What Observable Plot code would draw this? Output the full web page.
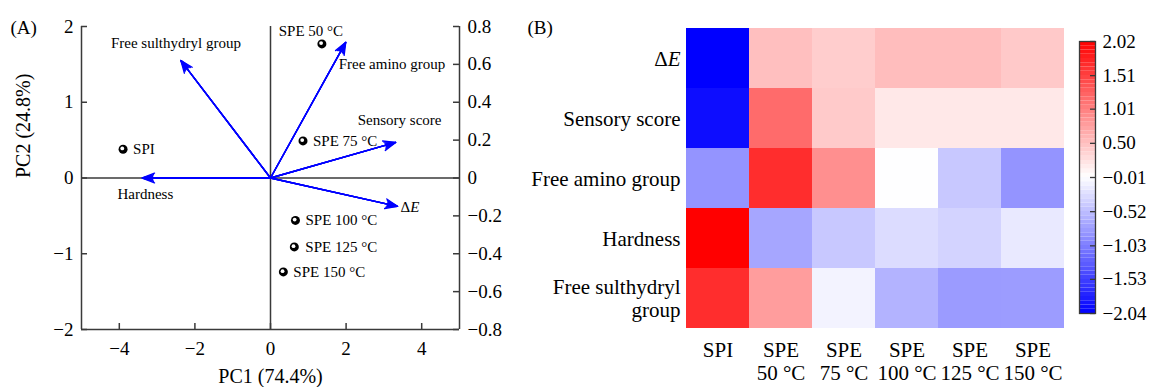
<!DOCTYPE html>
<html><head><meta charset="utf-8">
<script src="https://cdn.jsdelivr.net/npm/d3@7"></script>
<script src="https://cdn.jsdelivr.net/npm/@observablehq/plot@0.6"></script>
<style>
html,body{margin:0;padding:0;background:#fff;}
#wrap{position:relative;width:1151px;height:387px;overflow:hidden;font-family:"Liberation Serif",serif;}
#wrap > div{position:absolute;top:0;}
</style></head><body>
<div id="wrap"><div id="pca" style="left:0"></div><div id="heat" style="left:520px"></div><div id="bar" style="left:1078px"></div></div>
<script>
// ---- Data ----
const samples = ["SPI", "SPE 50 °C", "SPE 75 °C", "SPE 100 °C", "SPE 125 °C", "SPE 150 °C"];
const scoreX = [-3.9, 1.36, 0.86, 0.66, 0.63, 0.34];
const scoreY = [0.38, 1.77, 0.49, -0.56, -0.91, -1.24];
const variables = ["Free sulthydryl group", "Free amino group", "Sensory score", "ΔE", "Hardness"];
const loadX = [-2.37, 1.99, 3.31, 3.36, -3.39];
const loadY = [1.55, 1.79, 0.47, -0.375, 0];
const pcTicksX = [-4, -2, 0, 2, 4];
const pcTicksY = [-2, -1, 0, 1, 2];
const loadTicks = [-0.8, -0.6, -0.4, -0.2, 0, 0.2, 0.4, 0.6, 0.8];
const heatRows = ["ΔE", "Sensory score", "Free amino group", "Hardness", "Free sulthydryl group"];
const heatValues = [
  [-2.04, 0.51, 0.40, 0.52, 0.52, 0.43],
  [-1.94, 1.17, 0.42, 0.18, 0.18, 0.18],
  [-0.86, 1.66, 0.89, -0.01, -0.44, -0.86],
  [2.02, -0.71, -0.44, -0.28, -0.35, -0.18],
  [1.66, 0.78, -0.10, -0.61, -0.80, -0.79]
];
const barTicks = [2.02, 1.51, 1.01, 0.50, -0.01, -0.52, -1.03, -1.53, -2.04];

// ---- Styling ----
const FONT = "Liberation Serif";
const LINE = "#3a3a3a";
const BLUE = "#0000ff";
const minus = s => String(s).replace("-", "\u2212");
const ptLab = [
  {dx: 10, dy: 0, a: "start"}, {dx: -11, dy: -13, a: "middle"}, {dx: 10, dy: 0, a: "start"},
  {dx: 10, dy: 0, a: "start"}, {dx: 11, dy: 0, a: "start"}, {dx: 10, dy: 0, a: "start"}
];
const ldLab = [
  {dx: -5, dy: -17, a: "middle"}, {dx: -7, dy: 22, a: "start"}, {dx: 4, dy: -22, a: "middle"},
  {dx: 3, dy: 1, a: "start"}, {dx: 3, dy: 16, a: "middle"}
];
const colorScale = {type: "linear", domain: [-2.04, 0, 2.02], range: ["#0000ff", "#ffffff", "#ff0000"], interpolate: "rgb"};

const pts = samples.map((s, i) => ({name: s, x: scoreX[i], y: scoreY[i]}));
const lds = variables.map((v, i) => ({name: v, x: loadX[i], y: loadY[i]}));

// ---- Panel A ----
const W1 = 520, H = 387, mL1 = 81, mR1 = 61, mT = 26, mB = 58;
const iW1 = W1 - mL1 - mR1, iH = H - mT - mB;
const heads = [[44, 14], [34, 12.5], [24, 11.5], [14, 11]];
const pca = Plot.plot({
  width: W1, height: H, marginLeft: mL1, marginRight: mR1, marginTop: mT, marginBottom: mB,
  style: {fontFamily: FONT, background: "white", overflow: "visible"},
  x: {domain: [-5, 5]},
  y: {domain: [-2, 2]},
  marks: [
    Plot.ruleX([-5, 0, 5], {stroke: LINE, strokeWidth: 1.5}),
    Plot.ruleY([-2, 0], {stroke: LINE, strokeWidth: 1.5}),
    Plot.tickY(pcTicksY, {stroke: LINE, strokeWidth: 1.5, insetRight: iW1 - 6}),
    Plot.tickY(loadTicks.map(v => v * 2.5), {stroke: LINE, strokeWidth: 1.5, insetLeft: iW1 - 6}),
    Plot.tickX(pcTicksX, {stroke: LINE, strokeWidth: 1.5, insetTop: iH - 6}),
    Plot.axisY(pcTicksY, {anchor: "left", tickSize: 0, tickPadding: 8, tickFormat: minus, fontSize: 19, label: null}),
    Plot.axisY(loadTicks.map(v => v * 2.5), {anchor: "right", tickSize: 0, tickPadding: 8, tickFormat: d => minus(+(d / 2.5).toFixed(1)), fontSize: 19, label: null}),
    Plot.axisX(pcTicksX, {anchor: "bottom", tickSize: 0, tickPadding: 12, tickFormat: minus, fontSize: 19, label: null}),
    ...heads.map(([ang, len]) => Plot.arrow(lds, {x1: 0, y1: 0, x2: "x", y2: "y", stroke: BLUE, strokeWidth: 1.4, headAngle: ang, headLength: len})),
    Plot.dot(pts, {x: "x", y: "y", r: 4.5, fill: "black"}),
    Plot.dot(pts, {x: "x", y: "y", r: 1.9, fill: "white", dx: -0.8, dy: -0.8}),
    ...pts.map((p, i) => Plot.text([p], {x: "x", y: "y", text: "name", dx: ptLab[i].dx, dy: ptLab[i].dy, textAnchor: ptLab[i].a, lineAnchor: "middle", fontSize: 15, fill: "black"})),
    ...lds.map((p, i) => Plot.text([p], {x: "x", y: "y", text: "name", dx: ldLab[i].dx, dy: ldLab[i].dy, textAnchor: ldLab[i].a, lineAnchor: "middle", fontSize: 15, fill: "black"})),
    Plot.text(["PC1 (74.4%)"], {text: d => d, frameAnchor: "bottom", dy: 53, lineAnchor: "bottom", fontSize: 20}),
    Plot.text(["PC2 (24.8%)"], {text: d => d, frameAnchor: "left", dx: -52, rotate: -90, lineAnchor: "bottom", fontSize: 20}),
    Plot.text(["(A)"], {text: d => d, frameAnchor: "top-left", dx: -71, dy: 7, textAnchor: "start", lineAnchor: "bottom", fontSize: 19})
  ]
});
document.getElementById("pca").append(pca);

// ---- Panel B ----
const heatData = heatRows.flatMap((r, i) => samples.map((s, j) => ({row: r, sample: s, value: heatValues[i][j]})));
const heat = Plot.plot({
  width: 631, height: H, marginLeft: 166, marginRight: 87, marginTop: mT, marginBottom: mB,
  style: {fontFamily: FONT, background: "white", overflow: "visible"},
  x: {domain: samples, padding: 0},
  y: {domain: heatRows, padding: 0},
  color: colorScale,
  marks: [
    Plot.cell(heatData, {x: "sample", y: "row", fill: "value"}),
    Plot.axisX({anchor: "bottom", tickSize: 0, tickPadding: 11, tickFormat: s => s.replace(" ", "\n"), fontSize: 21, lineHeight: 1.1, label: null}),
    Plot.axisY({anchor: "left", tickSize: 0, tickPadding: 6, tickFormat: r => r === "Free sulthydryl group" ? "Free sulthydryl\ngroup" : r, fontSize: 21, lineHeight: 1.1, label: null}),
    Plot.text(["(B)"], {text: d => d, frameAnchor: "top-left", dx: -159, dy: 7, textAnchor: "start", lineAnchor: "bottom", fontSize: 19})
  ]
});
document.getElementById("heat").append(heat);

// ---- Colorbar ----
const nB = 64, lo = -2.04, hi = 2.02, st = (hi - lo) / nB;
const bands = d3.range(nB).map(i => ({y1: lo + i * st, y2: lo + (i + 1) * st, v: lo + (i + 0.5) * st}));
const bar = Plot.plot({
  width: 73, height: H, marginLeft: 1, marginRight: 56, marginTop: 41, marginBottom: 74,
  style: {fontFamily: FONT, background: "transparent", overflow: "visible"},
  x: {domain: [0, 1], axis: null},
  y: {domain: [lo, hi]},
  color: colorScale,
  marks: [
    Plot.rect(bands, {x1: 0, x2: 1, y1: "y1", y2: "y2", fill: "v"}),
    Plot.frame({stroke: LINE, strokeWidth: 1.3}),
    Plot.tickY(barTicks, {stroke: LINE, strokeWidth: 1.3, insetLeft: 11}),
    Plot.axisY(barTicks, {anchor: "right", tickSize: 0, tickPadding: 7, tickFormat: d => minus(d.toFixed(2)), fontSize: 19, label: null})
  ]
});
document.getElementById("bar").append(bar);

// italic E in ΔE
document.querySelectorAll("svg text").forEach(t => {
  if (t.textContent === "ΔE") {
    t.textContent = "Δ";
    const ts = document.createElementNS("http://www.w3.org/2000/svg", "tspan");
    ts.setAttribute("font-style", "italic");
    ts.textContent = "E";
    t.appendChild(ts);
  }
});
</script>
</body></html>
